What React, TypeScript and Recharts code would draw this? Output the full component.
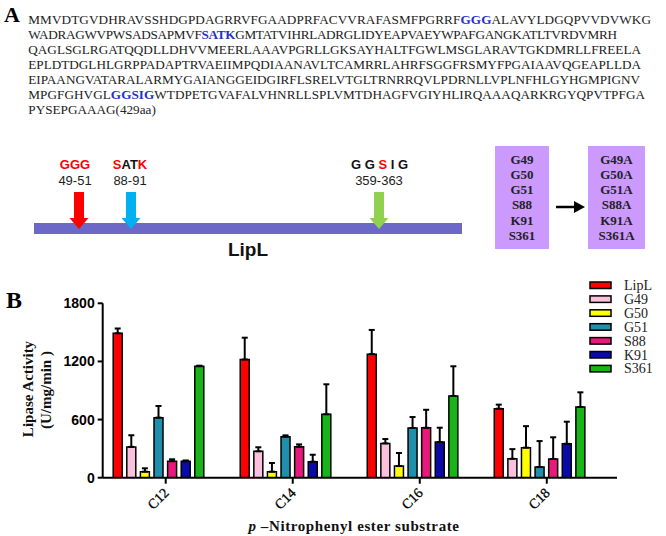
import React from "react";
import { BarChart, Bar, XAxis, YAxis, ErrorBar, Legend } from "recharts";

// panel B data
const categories = ["C12", "C14", "C16", "C18"];
const seriesNames = ["LipL", "G49", "G50", "G51", "S88", "K91", "S361"];
const seriesColors = ["#ff0000", "#fbc0dd", "#ffff00", "#1f8fab", "#e8197c", "#0a0aa8", "#18b418"];

const lipL = [1490, 1220, 1275, 712];
const lipLErr = [50, 225, 250, 42];
const g49 = [318, 272, 354, 195];
const g49Err = [120, 42, 45, 100];
const g50 = [62, 62, 120, 310];
const g50Err = [35, 90, 135, 222];
const g51 = [620, 423, 513, 110];
const g51Err = [120, 14, 113, 268];
const s88 = [170, 320, 515, 193];
const s88Err = [20, 24, 186, 224];
const k91 = [170, 165, 368, 350];
const k91Err = [8, 72, 148, 228];
const s361 = [1150, 654, 843, 730];
const s361Err = [6, 310, 307, 151];

const yTicks = [0, 600, 1200, 1800];

const seriesValues = [lipL, g49, g50, g51, s88, k91, s361];
const seriesErrors = [lipLErr, g49Err, g50Err, g51Err, s88Err, k91Err, s361Err];

// panel A text
const seqLines = [
  "MMVDTGVDHRAVSSHDGPDAGRRVFGAADPRFACVVRAFASMFPGRRF[GGG]ALAVYLDGQPVVDVWKG",
  "WADRAGWVPWSADSAPMVF[SATK]GMTATVIHRLADRGLIDYEAPVAEYWPAFGANGKATLTVRDVMRH",
  "QAGLSGLRGATQQDLLDHVVMEERLAAAVPGRLLGKSAYHALTFGWLMSGLARAVTGKDMRLLFREELA",
  "EPLDTDGLHLGRPPADAPTRVAEIIMPQDIAANAVLTCAMRRLAHRFSGGFRSMYFPGAIAAVQGEAPLLDA",
  "EIPAANGVATARALARMYGAIANGGEIDGIRFLSRELVTGLTRNRRQVLPDRNLLVPLNFHLGYHGMPIGNV",
  "MPGFGHVGL[GGSIG]WTDPETGVAFALVHNRLLSPLVMTDHAGFVGIYHLIRQAAAQARKRGYQPVTPFGA",
  "PYSEPGAAAG(429aa)",
];
const seqLineEnds = [651, 617, 641, 641, 640, 645, 0];
const mutSites = ["G49", "G50", "G51", "S88", "K91", "S361"];

const data = categories.map((c, i) => {
  const row: any = { name: c };
  seriesNames.forEach((s, k) => {
    row[s] = seriesValues[k][i];
    row[s + "_err"] = [0, seriesErrors[k][i]];
  });
  return row;
});

const SERIF = "'Liberation Serif', 'Times New Roman', serif";
const SANS = "'Liberation Sans', Arial, sans-serif";

const CatTick = ({ x, y, payload }: any) => (
  <g>
    <line x1={x + 7} x2={x + 7} y1={y} y2={y + 6} stroke="#000" strokeWidth={2} />
    <text
      x={x + 11}
      y={y + 16}
      transform={`rotate(-45 ${x + 11} ${y + 16})`}
      textAnchor="end"
      fontFamily={SERIF}
      fontSize={14}
      fill="#000"
      stroke="#000"
      strokeWidth={0.3}
    >
      {payload.value}
    </text>
  </g>
);

const renderLegend = () => (
  <svg width={80} height={105}>
    {seriesNames.map((s, i) => (
      <g key={s}>
        <rect x={2} y={4 + i * 13.9} width={21} height={6.5} fill={seriesColors[i]} stroke="#000" strokeWidth={1.5} />
        <text x={36} y={12 + i * 13.9} fontFamily={SERIF} fontSize={14} fill="#222">
          {s}
        </text>
      </g>
    ))}
  </svg>
);

const DownArrow = ({ cx, color }: { cx: number; color: string }) => (
  <g fill={color}>
    <rect x={cx - 5} y={192} width={10} height={27} />
    <polygon points={`${cx - 9.5},218 ${cx + 9.5},218 ${cx},229`} />
  </g>
);

function PanelA() {
  return (
    <svg width={666} height={536} style={{ position: "absolute", left: 0, top: 0, pointerEvents: "none" }}>
      <text x={4} y={22} fontFamily={SERIF} fontWeight="bold" fontSize={22} fill="#000">A</text>
      {seqLines.map((line, i) => {
        const parts = line.split(/(\[[^\]]+\])/).filter((p) => p.length);
        const fit = seqLineEnds[i] > 0 ? { textLength: seqLineEnds[i] - 28.3, lengthAdjust: "spacing" } : {};
        return (
          <text key={i} x={28.3} y={24 + i * 15} fontFamily={SERIF} fontSize={13.2} fill="#222" {...fit}>
            {parts.map((p, k) =>
              p.startsWith("[") ? (
                <tspan key={k} fill="#2531c8" fontWeight="bold">{p.slice(1, -1)}</tspan>
              ) : (
                <tspan key={k}>{p}</tspan>
              )
            )}
          </text>
        );
      })}

      {/* domain diagram */}
      <rect x={34} y={223} width={428} height={11} fill="#6b68c8" />
      <DownArrow cx={79} color="#ff0000" />
      <DownArrow cx={131} color="#00b0f0" />
      <DownArrow cx={379} color="#92d050" />
      <g fontFamily={SANS} fontSize={13} textAnchor="middle">
        <text x={75} y={168.5} fontWeight="bold" fill="#ff0000">GGG</text>
        <text x={75} y={184.5} fill="#222">49-51</text>
        <text x={130} y={168.5} fontWeight="bold" fill="#111">
          <tspan fill="#ff0000">S</tspan>AT<tspan fill="#ff0000">K</tspan>
        </text>
        <text x={130} y={184.5} fill="#222">88-91</text>
        <text x={379.5} y={168.5} fontWeight="bold" fill="#111">
          G G <tspan fill="#ff0000">S</tspan> I G
        </text>
        <text x={379} y={184.5} fill="#222">359-363</text>
      </g>
      <text x={248} y={256} fontFamily={SANS} fontWeight="bold" fontSize={19} textAnchor="middle" fill="#111">LipL</text>

      <rect x={495} y={146} width={54} height={103} fill="#cc99ff" />
      <rect x={588} y={146} width={57} height={103} fill="#cc99ff" />
      <g fontFamily={SERIF} fontWeight="bold" fontSize={13} textAnchor="middle" fill="#222">
        {mutSites.map((m, i) => (
          <g key={m}>
            <text x={522} y={163.5 + i * 15.3}>{m}</text>
            <text x={616.5} y={163.5 + i * 15.3}>{m}A</text>
          </g>
        ))}
      </g>
      <line x1={556} x2={576} y1={207} y2={207} stroke="#000" strokeWidth={2.5} />
      <polygon points="574,201 585,207 574,213" fill="#000" />

      {/* panel B labels */}
      <text x={6} y={308} fontFamily={SERIF} fontWeight="bold" fontSize={24} fill="#000">B</text>
      <g fontFamily={SERIF} fontWeight="bold" fontSize={15} fill="#111" textAnchor="middle">
        <text x={32.5} y={389} transform="rotate(-90 32.5 389)">Lipase Activity</text>
        <text x={51} y={390} transform="rotate(-90 51 390)">(U/mg/min )</text>
      </g>
      <text x={354} y={531} fontFamily={SERIF} fontWeight="bold" fontSize={15} textAnchor="middle" fill="#111" letterSpacing={0.6}>
        <tspan fontStyle="italic">p</tspan> –Nitrophenyl ester substrate
      </text>
    </svg>
  );
}

export default function App() {
  return (
    <div style={{ position: "absolute", left: 0, top: 0, width: 666, height: 536, background: "#fff" }}>
      <div style={{ position: "absolute", left: 0, top: 0 }}>
        <BarChart
          width={666}
          height={536}
          data={data}
          margin={{ top: 303.3, right: 49, bottom: 28.3, left: 42.7 }}
          barSize={9}
          barGap={4.6}
        >
          <XAxis
            dataKey="name"
            height={30}
            padding={{ left: -7.5, right: 13.7 }}
            axisLine={{ stroke: "#000", strokeWidth: 2 }}
            tickLine={false}
            tickSize={0}
            tickMargin={0}
            tick={<CatTick />}
            interval={0}
          />
          <YAxis
            width={60}
            domain={[0, 1800]}
            ticks={yTicks}
            allowDataOverflow
            axisLine={{ stroke: "#000", strokeWidth: 2 }}
            tickLine={{ stroke: "#000", strokeWidth: 2 }}
            tickSize={5}
            tickMargin={3}
            tick={{ fill: "#000", fontSize: 14, fontWeight: "bold", fontFamily: SANS }}
          />
          <Legend
            layout="vertical"
            align="center"
            verticalAlign="middle"
            wrapperStyle={{ left: 588, top: 278, width: 80 }}
            content={renderLegend}
          />
          {seriesNames.map((s, i) => (
            <Bar key={s} dataKey={s} fill={seriesColors[i]} stroke="#000" strokeWidth={1.5} isAnimationActive={false}>
              <ErrorBar dataKey={s + "_err"} width={3} stroke="#000" strokeWidth={2} direction="y" />
            </Bar>
          ))}
        </BarChart>
      </div>
      <PanelA />
    </div>
  );
}
